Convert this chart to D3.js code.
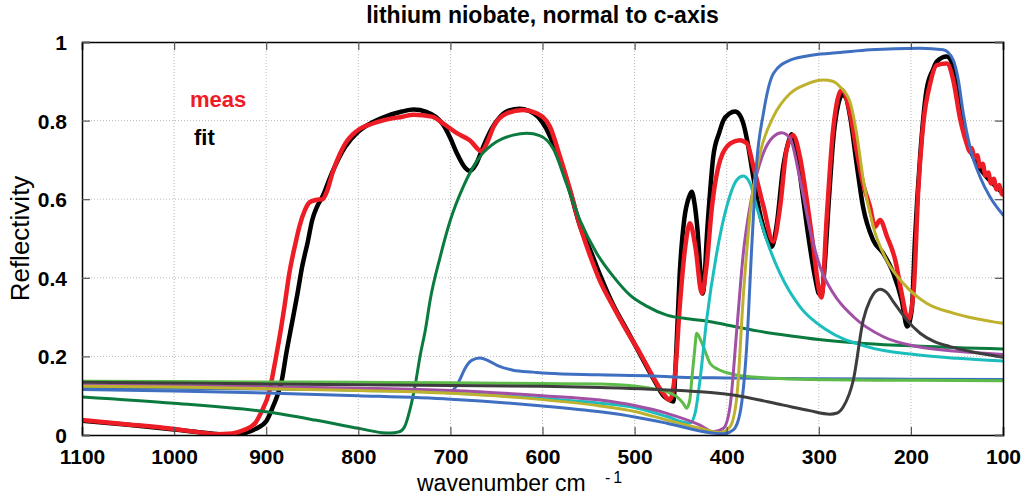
<!DOCTYPE html>
<html>
<head>
<meta charset="utf-8">
<script src="https://cdn.jsdelivr.net/npm/d3@7"></script>
<style>
  html, body { margin: 0; padding: 0; background: #fff; }
  svg { display: block; }
  text { font-family: "Liberation Sans", Arial, Helvetica, sans-serif; }
</style>
</head>
<body>
<svg id="chart" width="1024" height="501"></svg>
<script>
// ---------- DATA (wavenumber cm^-1, reflectivity) ----------
const title = "lithium niobate, normal to c-axis";
const xTicks = [1100, 1000, 900, 800, 700, 600, 500, 400, 300, 200, 100];
const yTicks = [0, 0.2, 0.4, 0.6, 0.8, 1];
const yTickLabels = ["0", "0.2", "0.4", "0.6", "0.8", "1"];

const meas = [[1100,0.038],[1050,0.027],[1000,0.015],[970,0.006],[955,0.002],[937,0.004],[925,0.012],[912,0.03],[905,0.06],[897,0.107],[890,0.19],[886,0.242],[880,0.33],[875,0.41],[868,0.49],[864,0.53],[858,0.572],[853,0.592],[846,0.598],[839,0.6],[834,0.62],[828,0.667],[820,0.715],[814,0.742],[806,0.765],[799,0.778],[785,0.792],[774,0.8],[752,0.81],[740,0.815],[720,0.81],[708,0.793],[693,0.768],[679,0.75],[666,0.722],[660,0.745],[653,0.785],[639,0.818],[621,0.827],[606,0.818],[592,0.785],[581,0.708],[570,0.623],[559,0.53],[548,0.454],[538,0.394],[523,0.326],[509,0.267],[494,0.208],[480,0.148],[469,0.106],[462,0.089],[456,0.157],[451,0.326],[445,0.479],[440,0.539],[434,0.479],[427,0.36],[422,0.428],[416,0.581],[407,0.7],[396,0.742],[386,0.75],[378,0.742],[371,0.683],[360,0.581],[349.5,0.492],[342,0.581],[335,0.725],[328,0.763],[320.5,0.708],[313,0.598],[306,0.479],[299,0.36],[297,0.35],[291.5,0.55],[284.3,0.78],[275,0.878],[266,0.818],[259,0.725],[252,0.64],[244.4,0.581],[239,0.53],[233.5,0.547],[226,0.505],[217,0.445],[210,0.36],[203,0.293],[197,0.369],[192,0.623],[186.5,0.793],[179,0.895],[172,0.941],[161,0.945],[154,0.903],[147,0.81],[139.5,0.742],[136,0.72],[134,0.73],[131,0.705],[128,0.712],[125,0.683],[122,0.69],[119,0.66],[116,0.668],[113,0.64],[110,0.652],[107,0.625],[104,0.636],[101,0.612],[100,0.62]];

const fit = [[1100,0.036],[1050,0.026],[1000,0.014],[960,0.004],[940,0.0],[925,0.004],[912,0.015],[900,0.035],[893,0.07],[888,0.1],[883,0.14],[878,0.21],[872,0.285],[866,0.36],[861,0.428],[855,0.49],[850,0.547],[845,0.58],[839,0.606],[828.6,0.667],[814,0.734],[800,0.772],[785,0.795],[774,0.807],[752.6,0.823],[740,0.828],[726,0.822],[716,0.81],[708,0.79],[700,0.755],[693,0.717],[684,0.68],[679,0.672],[672,0.69],[665,0.73],[655,0.78],[646,0.81],[636,0.826],[625,0.83],[615,0.825],[605,0.81],[596,0.78],[590,0.75],[581,0.7],[570,0.62],[559,0.53],[548,0.47],[538,0.41],[523,0.33],[509,0.27],[494,0.205],[480,0.145],[468,0.098],[461,0.088],[458,0.085],[455,0.2],[451,0.411],[446,0.55],[441,0.605],[438,0.619],[435,0.59],[432,0.53],[428,0.4],[426,0.36],[424,0.4],[421.8,0.496],[418,0.62],[414.6,0.708],[408,0.77],[403.7,0.8],[397,0.818],[391,0.823],[386,0.815],[382,0.793],[377,0.74],[373,0.683],[364,0.564],[356,0.5],[351,0.479],[346,0.53],[338.6,0.683],[333,0.745],[329.6,0.765],[324,0.72],[318,0.62],[311,0.5],[304,0.4],[300,0.36],[297,0.355],[294,0.42],[289,0.6],[284,0.76],[279,0.84],[275,0.865],[271,0.86],[266,0.81],[259,0.691],[252,0.581],[241,0.496],[230,0.462],[219,0.411],[210,0.343],[204,0.276],[199,0.32],[195.6,0.496],[190,0.708],[183,0.878],[176,0.93],[172,0.95],[161,0.963],[154,0.937],[147,0.827],[139.5,0.75],[128.6,0.691],[118,0.657],[109,0.635],[100,0.615]];

const osc1 = [[1100,0.097],[1000,0.081],[900,0.059],[847,0.038],[800,0.017],[774,0.006],[765,0.005],[756,0.008],[750,0.02],[744,0.064],[738,0.13],[733,0.2],[727,0.27],[722,0.343],[711,0.454],[700,0.547],[686,0.632],[668,0.708],[650,0.746],[632,0.763],[617,0.768],[603,0.762],[588,0.727],[574,0.64],[559,0.545],[541,0.462],[523,0.403],[505,0.356],[487,0.328],[465,0.305],[440,0.295],[422,0.29],[400,0.28],[367,0.265],[330,0.252],[300,0.243],[250,0.233],[190,0.226],[100,0.219]];

const osc2 = [[1100,0.121],[1000,0.119],[900,0.117],[800,0.115],[720,0.112],[700,0.112],[695,0.12],[690,0.14],[684,0.17],[677,0.19],[668,0.196],[658,0.188],[648,0.176],[632,0.165],[610,0.16],[595,0.157],[541,0.153],[480,0.15],[451,0.147],[400,0.145],[300,0.143],[200,0.142],[100,0.141]];

const osc3 = [[1100,0.137],[1000,0.136],[900,0.135],[800,0.134],[700,0.133],[600,0.131],[537,0.13],[483,0.119],[465,0.11],[454,0.097],[447,0.08],[443.5,0.068],[440,0.09],[438,0.14],[435,0.21],[432.6,0.259],[429,0.245],[425.3,0.225],[418,0.182],[410,0.168],[403.6,0.161],[390,0.153],[374.6,0.148],[320,0.142],[200,0.139],[100,0.138]];

const osc4 = [[1100,0.126],[1000,0.123],[900,0.12],[800,0.114],[700,0.107],[600,0.093],[537.6,0.081],[500,0.07],[465,0.047],[440,0.03],[434.4,0.055],[429,0.14],[421.8,0.293],[410.9,0.462],[400,0.581],[389.1,0.649],[382,0.659],[374.6,0.64],[367.5,0.581],[356.6,0.496],[342.1,0.411],[320.4,0.326],[291.4,0.267],[248,0.225],[193.8,0.204],[150,0.195],[100,0.188]];

const osc5 = [[1100,0.128],[1000,0.126],[900,0.123],[800,0.119],[700,0.113],[600,0.1],[537.6,0.089],[500,0.075],[465,0.055],[429,0.025],[414.5,0.008],[403.6,0.017],[396.4,0.072],[389.1,0.267],[382,0.462],[372.8,0.606],[360.2,0.717],[349.3,0.759],[340.3,0.769],[331.2,0.755],[320.3,0.649],[309.5,0.522],[298.6,0.428],[284.1,0.36],[262.4,0.301],[229.9,0.25],[193.7,0.225],[150,0.213],[100,0.205]];

const osc6 = [[1100,0.124],[1000,0.122],[900,0.118],[800,0.113],[700,0.106],[600,0.09],[537.6,0.074],[500,0.06],[465,0.038],[429,0.017],[407.2,0.006],[396.4,0.021],[389,0.097],[382,0.352],[374.6,0.564],[363.7,0.717],[349.3,0.81],[331.2,0.869],[313.1,0.893],[295,0.903],[285,0.9],[277,0.886],[266.2,0.848],[259,0.768],[251.7,0.649],[240.9,0.53],[226.4,0.445],[208.3,0.386],[183,0.335],[154,0.31],[100,0.284]];

const osc7 = [[1100,0.116],[1000,0.112],[900,0.107],[800,0.1],[700,0.091],[600,0.074],[537.6,0.059],[500,0.046],[465,0.03],[418,0.006],[403.6,0.003],[392.8,0.013],[385.6,0.055],[378.3,0.225],[372.8,0.479],[367.5,0.691],[360.2,0.818],[349.3,0.92],[331.2,0.954],[306,0.967],[277,0.973],[244.4,0.98],[190,0.984],[164.8,0.98],[154,0.954],[148.5,0.903],[143.1,0.818],[135.9,0.733],[125,0.657],[114.2,0.606],[100,0.56]];

const osc8 = [[1100,0.134],[1000,0.132],[900,0.13],[800,0.128],[700,0.126],[600,0.124],[537,0.121],[450,0.113],[393,0.102],[338.5,0.076],[310,0.062],[288,0.053],[280,0.056],[273.4,0.072],[262.5,0.14],[251.7,0.293],[244.4,0.343],[233.5,0.371],[226,0.362],[219,0.339],[204.5,0.293],[190,0.259],[175,0.238],[157.6,0.225],[130,0.21],[100,0.198]];

// ---------- LAYOUT ----------
const W = 1024, H = 501;
const m = {left: 82, top: 42, right: 21, bottom: 66};
const iw = W - m.left - m.right, ih = H - m.top - m.bottom;

const svg = d3.select("#chart");
const x = d3.scaleLinear().domain([1100, 100]).range([0, iw]);
const y = d3.scaleLinear().domain([0, 1]).range([ih, 0]);

svg.append("defs").append("clipPath").attr("id", "clip")
  .append("rect").attr("width", iw).attr("height", ih);

const g = svg.append("g").attr("transform", `translate(${m.left},${m.top})`);

// grid
g.append("g").selectAll("line").data(xTicks.slice(1, -1)).join("line")
  .attr("x1", d => x(d)).attr("x2", d => x(d)).attr("y1", 0).attr("y2", ih)
  .attr("stroke", "#b8b8b8").attr("stroke-width", 1).attr("stroke-dasharray", "1,2");
g.append("g").selectAll("line").data(yTicks.slice(1, -1)).join("line")
  .attr("y1", d => y(d)).attr("y2", d => y(d)).attr("x1", 0).attr("x2", iw)
  .attr("stroke", "#b8b8b8").attr("stroke-width", 1).attr("stroke-dasharray", "1,2");

// curves
const line = d3.line().x(d => x(d[0])).y(d => y(d[1])).curve(d3.curveMonotoneX);
const series = [
  {data: fit,  color: "#000000", w: 4.5},
  {data: meas, color: "#ee1c25", w: 4.5},
  {data: osc1, color: "#0b7a3e", w: 3},
  {data: osc2, color: "#3f6fc0", w: 3},
  {data: osc3, color: "#5dbb47", w: 3},
  {data: osc4, color: "#1bbdbd", w: 3},
  {data: osc5, color: "#a24fa6", w: 3},
  {data: osc6, color: "#bdb12d", w: 3},
  {data: osc7, color: "#3f6fc0", w: 3},
  {data: osc8, color: "#3d3d3d", w: 3}
];
const plot = g.append("g").attr("clip-path", "url(#clip)");
series.forEach(s => {
  plot.append("path").datum(s.data).attr("d", line)
    .attr("fill", "none").attr("stroke", s.color).attr("stroke-width", s.w)
    .attr("stroke-linejoin", "round").attr("stroke-linecap", "round");
});

// axes (inward ticks, MATLAB style)
const tl = 8;
const axB = g.append("g").attr("transform", `translate(0,${ih})`)
  .call(d3.axisBottom(x).tickValues(xTicks).tickSize(-tl).tickPadding(tl + 6).tickFormat(d3.format("d")));
const axT = g.append("g")
  .call(d3.axisTop(x).tickValues(xTicks).tickSize(-tl).tickFormat(""));
const axL = g.append("g")
  .call(d3.axisLeft(y).tickValues(yTicks).tickSize(-tl).tickPadding(tl + 7).tickFormat((d, i) => yTickLabels[i]));
const axR = g.append("g").attr("transform", `translate(${iw},0)`)
  .call(d3.axisRight(y).tickValues(yTicks).tickSize(-tl).tickFormat(""));
[axB, axT, axL, axR].forEach(a => {
  a.select(".domain").attr("stroke", "#000").attr("stroke-width", 1.5);
  a.selectAll(".tick line").attr("stroke", "#555").attr("stroke-width", 1.2);
  a.selectAll("text").attr("font-size", 21).attr("font-weight", "bold").attr("fill", "#000")
    .attr("font-family", "'Liberation Sans', Arial, sans-serif");
});
axB.selectAll("text").attr("dy", "0.71em");
axL.selectAll("text").attr("dy", "0.36em");

// title
svg.append("text").attr("x", m.left + iw / 2).attr("y", 23).attr("text-anchor", "middle")
  .attr("font-size", 23).attr("font-weight", "bold").text(title);

// axis labels
svg.append("text").attr("x", 417).attr("y", 491).attr("font-size", 23).text("wavenumber cm");
svg.append("text").attr("x", 605).attr("y", 483).attr("font-size", 16)
  .attr("letter-spacing", 3).text("-1");

svg.append("text").attr("transform", `translate(29,${m.top + ih / 2}) rotate(-90)`)
  .attr("text-anchor", "middle").attr("font-size", 26).text("Reflectivity");

// legend text
svg.append("text").attr("x", 190).attr("y", 107).attr("font-size", 22).attr("font-weight", "bold")
  .attr("fill", "#ee1c25").text("meas");
svg.append("text").attr("x", 194).attr("y", 145).attr("font-size", 22).attr("font-weight", "bold")
  .attr("fill", "#000").text("fit");
</script>
</body>
</html>
